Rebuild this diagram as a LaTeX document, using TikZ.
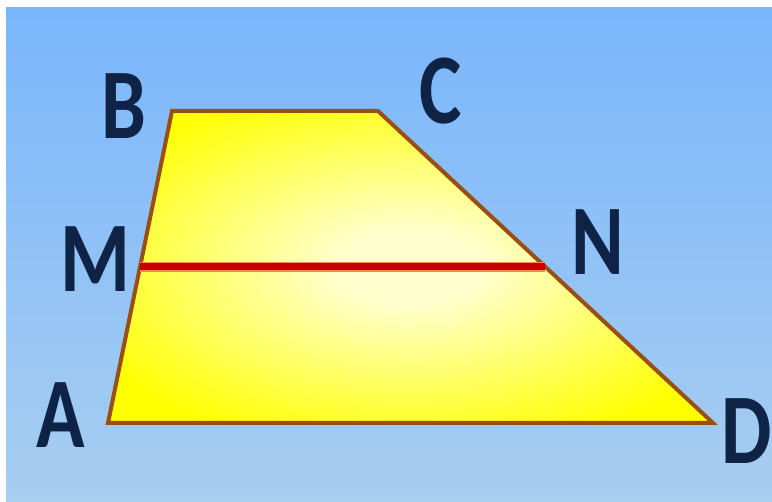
\documentclass[tikz,border=0pt]{standalone}
\usepackage{fontspec}
\setmainfont{Carlito}
\definecolor{bgtop}{RGB}{122,182,252}
\definecolor{bgbot}{RGB}{168,206,240}
\definecolor{edge}{RGB}{155,78,18}
\definecolor{midred}{RGB}{200,0,0}
\definecolor{halo}{RGB}{240,140,70}
\definecolor{ink}{RGB}{15,35,70}
\definecolor{lightyel}{RGB}{255,255,205}
\pgfdeclareradialshading{trapshade}{\pgfpoint{0bp}{0bp}}{color(0bp)=(lightyel); color(6bp)=(lightyel); color(30bp)=(yellow); color(50bp)=(yellow)}
\begin{document}
\begin{tikzpicture}[x=1pt,y=-1pt,
  lbl/.style={inner sep=0pt,text=ink,font=\fontsize{100}{100}\selectfont\bfseries}]
\useasboundingbox (0,0) rectangle (772,502);
\fill[white] (0,0) rectangle (772,502);
\shade[top color=bgtop,bottom color=bgbot] (6,8) rectangle (772,502);
\coordinate (A) at (108,423);
\coordinate (B) at (172,111);
\coordinate (C) at (378,111);
\coordinate (D) at (713,423);
\coordinate (M) at (140,267);
\coordinate (N) at (545,267);
\shade[shading=trapshade] (A) -- (B) -- (C) -- (D) -- cycle;
\draw[edge,line width=4pt,line join=miter] (A) -- (B) -- (C) -- (D) -- cycle;
\draw[halo,line width=10pt] (M) -- (N);
\draw[midred,line width=7pt] (M) -- (N);
\node[lbl] (lA) at (61,415) {\scalebox{0.8}[1]{A}};
\node[lbl] (lB) at (124,106) {\scalebox{0.8}[1]{B}};
\node[lbl] (lC) at (441,91) {\scalebox{0.8}[1]{C}};
\node[lbl] (lD) at (747,431) {\scalebox{0.8}[1]{D}};
\node[lbl] (lM) at (95,259) {\scalebox{0.8}[1]{M}};
\node[lbl] (lN) at (598,242) {\scalebox{0.8}[1]{N}};
\end{tikzpicture}
\end{document}
